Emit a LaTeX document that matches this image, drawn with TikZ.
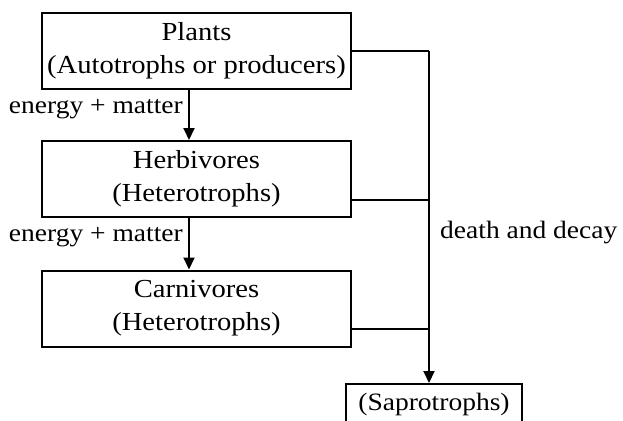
\documentclass[tikz,border=0pt]{standalone}
\usepackage{fontspec}
\setmainfont{Liberation Serif}[FakeStretch=1.1]
\usetikzlibrary{arrows.meta}
\begin{document}
\begin{tikzpicture}[x=1pt,y=-1pt,
  box/.style={draw,line width=2pt,minimum width=309pt,minimum height=76pt,align=center,inner sep=0pt,font=\fontsize{26}{33}\selectfont},
  lbl/.style={inner sep=0pt,font=\fontsize{25}{30}\selectfont},
  link/.style={line width=2pt},
  arr/.style={line width=2pt,-{Triangle[length=12pt,width=11pt]}}]
\useasboundingbox (0,0) rectangle (623,420);
\clip (0,0) rectangle (623,420);
\node[box] (plants) at (196.5,51) {Plants\\(Autotrophs or producers)};
\node[box] (herb) at (196.5,179) {Herbivores\\(Heterotrophs)};
\node[box] (carn) at (196.5,308.5) {Carnivores\\(Heterotrophs)};
\node[draw,line width=2pt,minimum width=176pt,minimum height=40pt,inner sep=0pt,font=\fontsize{25}{30}\selectfont] (sap) at (434,404) {(Saprotrophs)};
\coordinate (ax) at (189,0);
\coordinate (vx) at (429,0);
\draw[arr] (plants.south -| ax) -- (herb.north -| ax);
\draw[arr] (herb.south -| ax) -- (carn.north -| ax);
\node[lbl,anchor=east] (e1) at (183,109) {energy + matter};
\node[lbl,anchor=east] (e2) at (183,237) {energy + matter};
\draw[link] (plants.east) -- (plants.east -| vx);
\draw[link] ([yshift=-21pt]herb.east) -- ([yshift=-21pt]herb.east -| vx);
\draw[link] ([yshift=-20.5pt]carn.east) -- ([yshift=-20.5pt]carn.east -| vx);
\draw[arr] (plants.east -| vx) -- (sap.north -| vx);
\node[lbl,anchor=west] (dd) at (440,233) {death and decay};
\end{tikzpicture}
\end{document}
